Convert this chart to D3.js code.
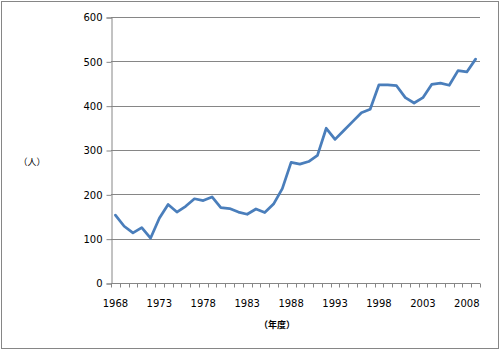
<!DOCTYPE html>
<html>
<head>
<meta charset="utf-8">
<script src="https://cdn.jsdelivr.net/npm/d3@7"></script>
<style>
  body { margin: 0; background: #fff; }
  svg { display: block; }
</style>
</head>
<body>
<div id="chart"></div>
<script>
// 年度別人数
var years = d3.range(1968, 2010);
var values = [153, 128, 113, 125, 101, 146, 177, 160, 173, 190,
              186, 194, 170, 168, 160, 155, 167, 159, 178, 213,
              272, 268, 274, 288, 349, 324, 344, 364, 384, 392,
              447, 447, 445, 418, 406, 418, 448, 451, 446, 479,
              476, 505];
var yTicks = [0, 100, 200, 300, 400, 500, 600];
var xLabelYears = [1968, 1973, 1978, 1983, 1988, 1993, 1998, 2003, 2008];

var W = 500, H = 350;
var plot = {left: 111, right: 480, top: 17, bottom: 283};
var gray = "#868686";

var svg = d3.select("#chart").append("svg")
    .attr("width", W)
    .attr("height", H);

// 外枠
svg.append("rect")
    .attr("x", 1.5).attr("y", 1.5)
    .attr("width", W - 3).attr("height", H - 3)
    .attr("fill", "#fff")
    .attr("stroke", gray)
    .attr("stroke-width", 1);

var x = d3.scaleBand()
    .domain(years)
    .range([plot.left, plot.right]);

var y = d3.scaleLinear()
    .domain([0, 600])
    .range([plot.bottom, plot.top]);

// 目盛線
svg.append("g")
    .selectAll("line")
    .data(yTicks.slice(1))
    .enter().append("line")
    .attr("x1", plot.left)
    .attr("x2", plot.right)
    .attr("y1", function(d){ return Math.round(y(d)) + 0.5; })
    .attr("y2", function(d){ return Math.round(y(d)) + 0.5; })
    .attr("stroke", gray)
    .attr("stroke-width", 1);

// Y軸
var yAxis = svg.append("g")
    .attr("transform", "translate(" + (plot.left + 0.5) + ",0.5)")
    .call(d3.axisLeft(y).tickValues(yTicks).tickSize(5).tickPadding(4));
yAxis.select(".domain").attr("stroke", gray);
yAxis.selectAll(".tick line").attr("stroke", gray);
yAxis.selectAll(".tick text")
    .attr("fill", "#000")
    .style("font-family", "'DejaVu Sans', sans-serif")
    .style("font-size", "10px");

// X軸 (区切り目盛)
var xAxisG = svg.append("g")
    .attr("transform", "translate(0," + (plot.bottom + 0.5) + ")");
xAxisG.append("line")
    .attr("x1", plot.left)
    .attr("x2", plot.right)
    .attr("stroke", gray);
xAxisG.selectAll("line.tick")
    .data(years.concat([2010]))
    .enter().append("line")
    .classed("tick", true)
    .attr("x1", function(d, i){ return Math.round(plot.left + i * x.step()) + 0.5; })
    .attr("x2", function(d, i){ return Math.round(plot.left + i * x.step()) + 0.5; })
    .attr("y1", 0)
    .attr("y2", 4)
    .attr("stroke", gray);
xAxisG.selectAll("text")
    .data(xLabelYears)
    .enter().append("text")
    .attr("x", function(d){ return x(d) + x.bandwidth() / 2; })
    .attr("y", 23)
    .attr("text-anchor", "middle")
    .style("font-family", "'DejaVu Sans', sans-serif")
    .style("font-size", "10px")
    .text(function(d){ return d; });

// 折れ線
var line = d3.line()
    .x(function(d, i){ return x(years[i]) + x.bandwidth() / 2; })
    .y(function(d){ return y(d); });

svg.append("path")
    .datum(values)
    .attr("d", line)
    .attr("fill", "none")
    .attr("stroke", "#4A7EBB")
    .attr("stroke-width", 2.75)
    .attr("stroke-linejoin", "round")
    .attr("stroke-linecap", "round");

// 軸ラベル
svg.append("text")
    .attr("x", 32)
    .attr("y", 165)
    .attr("text-anchor", "middle")
    .style("font-family", "'Noto Sans CJK JP', sans-serif")
    .style("font-size", "9px")
    .text("（人）");

svg.append("text")
    .attr("x", 277)
    .attr("y", 328)
    .attr("text-anchor", "middle")
    .style("font-family", "'Noto Sans CJK JP', sans-serif")
    .style("font-size", "9px")
    .style("font-weight", "bold")
    .text("（年度）");
</script>
</body>
</html>
